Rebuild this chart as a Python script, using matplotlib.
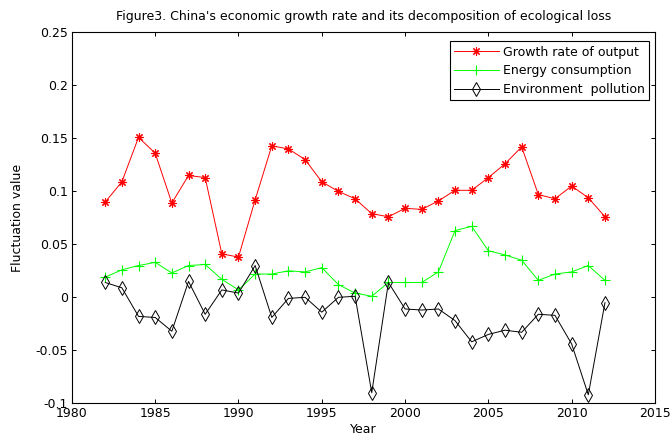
import matplotlib
matplotlib.use('Agg')
import matplotlib.pyplot as plt
import numpy as np

plt.rcParams['font.family'] = ['DejaVu Sans']

years = list(range(1982, 2013))

growth_output = [0.090, 0.109, 0.151, 0.136, 0.089, 0.115, 0.113, 0.041, 0.038, 0.092,
                 0.143, 0.140, 0.130, 0.109, 0.100, 0.093, 0.079, 0.076, 0.084, 0.083,
                 0.091, 0.101, 0.101, 0.113, 0.126, 0.142, 0.097, 0.093, 0.105, 0.094,
                 0.076]

energy_consumption = [0.019, 0.026, 0.030, 0.033, 0.023, 0.030, 0.031, 0.017, 0.007, 0.022,
                      0.022, 0.025, 0.024, 0.028, 0.012, 0.004, 0.001, 0.014, 0.014, 0.014,
                      0.024, 0.063, 0.067, 0.044, 0.040, 0.035, 0.016, 0.022, 0.024, 0.030,
                      0.016]

env_pollution = [0.014, 0.009, -0.018, -0.019, -0.032, 0.015, -0.016, 0.007, 0.004, 0.030,
                 -0.019, -0.001, 0.000, -0.014, 0.000, 0.001, -0.090, 0.014, -0.011, -0.012,
                 -0.011, -0.022, -0.042, -0.035, -0.031, -0.033, -0.016, -0.017, -0.044, -0.092,
                 -0.005]

fig = plt.figure(figsize=(6.72, 4.42), dpi=100)
ax = fig.add_axes([0.107, 0.0876, 0.8676, 0.839])

ax.plot(years, growth_output, color='red', linewidth=0.7, marker=(8, 2, 0),
        markersize=6, markeredgewidth=0.8, label='Growth rate of output')
ax.plot(years, energy_consumption, color=(0, 1, 0), linewidth=0.7, marker='+',
        markersize=7, markeredgewidth=0.8, label='Energy consumption')
ax.plot(years, env_pollution, color='black', linewidth=0.7, marker='d',
        markersize=7.5, markerfacecolor='none', markeredgewidth=0.7,
        label='Environment  pollution')

ax.set_xlim(1980, 2015)
ax.set_ylim(-0.1, 0.25)
ax.set_xticks(np.arange(1980, 2016, 5))
yt = [-0.1, -0.05, 0, 0.05, 0.1, 0.15, 0.2, 0.25]
ax.set_yticks(yt)
ax.set_yticklabels(['-0.1', '-0.05', '0', '0.05', '0.1', '0.15', '0.2', '0.25'])
ax.tick_params(direction='in', top=True, right=True, labelsize=9, length=3,
               width=0.7, pad=3)
for s in ax.spines.values():
    s.set_linewidth(0.8)

ax.set_xlabel('Year', fontsize=9, labelpad=2)
ax.set_ylabel('Fluctuation value', fontsize=9, labelpad=8)
ax.set_title("Figure3. China's economic growth rate and its decomposition of ecological loss",
             fontsize=9, pad=9)

leg = ax.legend(loc='upper right', bbox_to_anchor=(0.9897, 0.9757), fontsize=9,
                fancybox=False, edgecolor='black', framealpha=1,
                handlelength=3.6, borderpad=0.35, labelspacing=0.45,
                handletextpad=0.3, borderaxespad=0)
leg.get_frame().set_linewidth(0.8)

fig.savefig('out.png', dpi=100)
